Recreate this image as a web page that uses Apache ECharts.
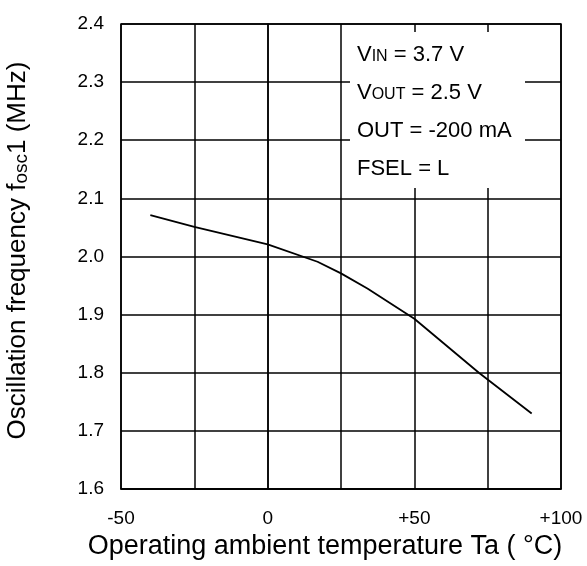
<!DOCTYPE html>
<html><head><meta charset="utf-8">
<script src="https://cdn.jsdelivr.net/npm/echarts@6/dist/echarts.min.js"></script>
<style>html,body{margin:0;padding:0;background:#fff}#c{width:587px;height:566px}</style>
</head><body><div id="c"></div>
<script>
const temps = [-40, -25, 0, 17, 25, 34, 50, 72, 90];
const freqs = [2.071, 2.051, 2.021, 1.991, 1.971, 1.945, 1.893, 1.800, 1.730];
const xTickLabels = {'-50': '-50', '0': '0', '50': '+50', '100': '+100'};
const annotLines = [
  ['V', 'IN', ' = 3.7 V'],
  ['V', 'OUT', ' = 2.5 V'],
  ['OUT = -200 mA', '', ''],
  ['FSEL = L', '', '']
];
const FONT = 'Liberation Sans, Arial, sans-serif';
const chart = echarts.init(document.getElementById('c'));
const annotText = annotLines.map(l => '{n|' + l[0] + '}' + (l[1] ? '{s|' + l[1] + '}' : '') + (l[2] ? '{n|' + l[2] + '}' : '')).join('\n');
chart.setOption({
  animation: false,
  backgroundColor: '#fff',
  grid: {left: 121, right: 26, top: 24, bottom: 77, show: true, borderColor: '#000', borderWidth: 1.5,
    containLabel: false, outerBoundsMode: 'none'},
  xAxis: {
    type: 'value', min: -50, max: 100, interval: 25,
    axisLine: {show: true, lineStyle: {color: '#000', width: 1.5}},
    axisTick: {show: false},
    splitLine: {show: true, lineStyle: {color: '#000', width: 1.5}},
    axisLabel: {color: '#000', fontFamily: FONT, fontSize: 19, margin: 20,
      formatter: v => xTickLabels[String(v)] || ''},
    name: 'Operating ambient temperature Ta ( °C)',
    nameLocation: 'middle', nameGap: 44,
    nameTextStyle: {color: '#000', fontFamily: FONT, fontSize: 27, padding: [0, 32, 0, 0]}
  },
  yAxis: {
    type: 'value', min: 1.6, max: 2.4, interval: 0.1,
    axisLine: {show: true, lineStyle: {color: '#000', width: 1.5}},
    axisTick: {show: false},
    splitLine: {show: true, lineStyle: {color: '#000', width: 1.5}},
    axisLabel: {color: '#000', fontFamily: FONT, fontSize: 19, margin: 17, padding: [0, 0, 8, 0],
      formatter: v => v.toFixed(1)},
    name: 'Oscillation frequency f{s|osc}1 (MHz)',
    nameLocation: 'middle', nameGap: 90,
    nameTextStyle: {color: '#000', fontFamily: FONT, fontSize: 26, padding: [0, 0, 0, 12],
      rich: {s: {fontSize: 19, fontFamily: FONT, color: '#000', verticalAlign: 'bottom'}}}
  },
  graphic: [{
    type: 'rect', left: 350, top: 32, shape: {width: 175, height: 156},
    style: {fill: '#fff'}, z: 10
  }, {
    type: 'text', left: 357, top: 44, z: 11,
    style: {text: annotText, fill: '#000', font: '22px ' + FONT,
      rich: {
        n: {fontSize: 22, fontFamily: FONT, fill: '#000', lineHeight: 38},
        s: {fontSize: 16, fontFamily: FONT, fill: '#000', lineHeight: 30, padding: [4, 0, 0, 0]}
      }}
  }],
  series: [{
    type: 'line', data: temps.map((t, i) => [t, freqs[i]]),
    showSymbol: false, lineStyle: {color: '#000', width: 1.8}, z: 5
  }]
});
</script></body></html>
